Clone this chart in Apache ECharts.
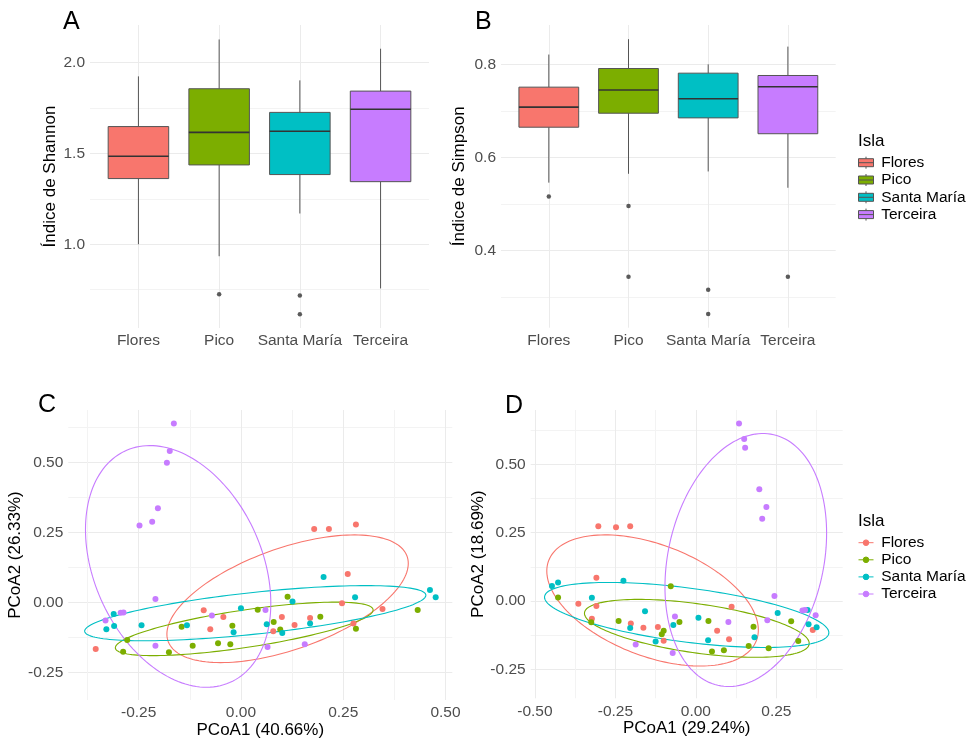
<!DOCTYPE html>
<html>
<head>
<meta charset="utf-8">
<script src="https://cdn.jsdelivr.net/npm/echarts@6/dist/echarts.min.js"></script>
<style>
  html, body { margin: 0; padding: 0; background: #fff; }
  #main { width: 970px; height: 740px; }
</style>
</head>
<body>
<div id="main"></div>
<script>
const islands = ['Flores', 'Pico', 'Santa María', 'Terceira'];
const islandColors = ['#F8766D', '#7CAE00', '#00BFC4', '#C77CFF'];

// [bigote inferior, Q1, mediana, Q3, bigote superior]
const shannonBoxes = [
  [1.000, 1.361, 1.484, 1.647, 1.923],
  [0.934, 1.436, 1.615, 1.855, 2.126],
  [1.169, 1.383, 1.621, 1.725, 1.901],
  [0.757, 1.344, 1.742, 1.842, 2.075]
];
const shannonOutliers = [[2, 0.725], [3, 0.718], [3, 0.615]];

const simpsonBoxes = [
  [0.546, 0.665, 0.708, 0.751, 0.821],
  [0.565, 0.695, 0.745, 0.791, 0.854],
  [0.570, 0.685, 0.726, 0.781, 0.800],
  [0.535, 0.651, 0.752, 0.776, 0.838]
];
const simpsonOutliers = [[1, 0.516], [2, 0.496], [2, 0.344], [3, 0.316], [3, 0.264], [4, 0.344]];

// PCoA C
const cFlores = [[0.179, 0.263], [0.215, 0.263], [0.281, 0.279], [0.261, 0.102], [0.247, -0.002], [0.346, -0.023], [-0.091, -0.027], [-0.043, -0.051], [-0.075, -0.095], [0.100, -0.051], [0.169, -0.055], [0.131, -0.080], [0.079, -0.102], [0.275, -0.074], [-0.355, -0.165]];
const cPico = [[0.114, 0.021], [0.041, -0.025], [0.194, -0.050], [0.080, -0.069], [0.096, -0.096], [-0.021, -0.082], [-0.145, -0.086], [-0.056, -0.145], [-0.026, -0.148], [-0.118, -0.154], [-0.176, -0.177], [-0.288, -0.175], [-0.278, -0.133], [0.281, -0.093], [0.432, -0.026]];
const cSantaMaria = [[0.202, 0.092], [0.462, 0.045], [0.476, 0.019], [0.279, 0.019], [0.126, 0.004], [0.000, -0.020], [-0.311, -0.040], [-0.310, -0.083], [-0.329, -0.095], [-0.243, -0.081], [-0.132, -0.081], [0.063, -0.077], [-0.018, -0.106], [0.101, -0.108], [0.169, -0.074]];
const cTerceira = [[-0.164, 0.640], [-0.174, 0.542], [-0.181, 0.500], [-0.203, 0.337], [-0.217, 0.289], [-0.248, 0.276], [-0.209, 0.013], [-0.331, -0.064], [-0.294, -0.036], [-0.287, -0.035], [-0.071, -0.046], [0.060, -0.026], [-0.209, -0.154], [0.065, -0.158], [0.156, -0.148]];
// elipses C: [cx, cy, semiancho x, semialto y, k]
const cEllipses = [
  [0.114, 0.014, 0.295, 0.228, 0.553],
  [0.008, -0.0935, 0.315, 0.0955, 0.707],
  [0.035, -0.0375, 0.417, 0.0985, 0.65],
  [-0.1535, 0.1295, 0.2265, 0.4315, -0.305]
];

// PCoA D
const dFlores = [[-0.303, 0.274], [-0.248, 0.270], [-0.204, 0.274], [-0.309, 0.085], [-0.365, -0.010], [-0.309, -0.018], [-0.323, -0.065], [-0.202, -0.082], [-0.163, -0.098], [-0.118, -0.095], [-0.100, -0.145], [0.111, -0.021], [0.066, -0.109], [0.103, -0.140], [0.363, -0.106]];
const dPico = [[-0.428, 0.013], [-0.325, -0.078], [-0.240, -0.073], [-0.100, -0.109], [-0.106, -0.122], [-0.078, 0.054], [-0.051, -0.077], [0.039, -0.073], [0.050, -0.185], [0.087, -0.180], [0.164, -0.165], [0.179, -0.094], [0.226, -0.173], [0.296, -0.074], [0.318, -0.146]];
const dSantaMaria = [[-0.447, 0.055], [-0.428, 0.068], [-0.225, 0.074], [-0.323, 0.012], [-0.158, -0.037], [-0.204, -0.099], [-0.125, -0.148], [-0.070, -0.088], [0.008, -0.061], [0.038, -0.144], [0.182, -0.133], [0.254, -0.044], [0.347, -0.033], [0.350, -0.085], [0.375, -0.096]];
const dTerceira = [[0.134, 0.650], [0.150, 0.593], [0.153, 0.561], [0.197, 0.409], [0.219, 0.344], [0.206, 0.301], [0.244, 0.018], [0.222, -0.070], [-0.065, -0.057], [0.101, -0.077], [-0.072, -0.190], [-0.187, -0.159], [0.331, -0.035], [0.339, -0.033], [0.372, -0.052]];
const dEllipses = [
  [-0.1345, 0.002, 0.3285, 0.240, -0.449],
  [0.003, -0.100, 0.349, 0.106, -0.519],
  [-0.0285, -0.051, 0.4415, 0.119, -0.546],
  [0.155, 0.150, 0.251, 0.463, 0.212]
];

const cPoints = [cFlores, cPico, cSantaMaria, cTerceira];
const dPoints = [dFlores, dPico, dSantaMaria, dTerceira];

const FONT = "'Liberation Sans', Arial, sans-serif";
const MAJOR = '#EBEBEB';
const MINOR = '#F3F3F3';

const chart = echarts.init(document.getElementById('main'), null, { renderer: 'canvas' });

const grids = [
  { left: 90, top: 25, width: 339, height: 303 },
  { left: 501, top: 25, width: 334.7, height: 302.7 },
  { left: 68.3, top: 410, width: 384, height: 290 },
  { left: 530.7, top: 410, width: 312, height: 288.3 }
];

// eje principal (etiquetas + lineas mayores) y eje secundario (lineas menores)
function axisPair(dim, gi, min, max, major, minor, fmt, name, nameGap) {
  const main = {
    type: 'value', gridIndex: gi, min: min, max: max,
    axisLine: { show: false },
    axisTick: { show: false, customValues: major },
    splitLine: { show: true, lineStyle: { color: MAJOR, width: 1 } },
    axisLabel: {
      customValues: major, formatter: fmt, color: '#4D4D4D',
      fontSize: 15.5, margin: 5, fontFamily: FONT
    }
  };
  if (name) {
    main.name = name;
    main.nameLocation = 'middle';
    main.nameGap = nameGap;
    main.nameTextStyle = { fontSize: 17, color: '#000', fontFamily: FONT };
  }
  const sec = {
    type: 'value', gridIndex: gi, min: min, max: max,
    axisLine: { show: false },
    axisTick: { show: false, customValues: minor },
    splitLine: { show: minor.length > 0, lineStyle: { color: MINOR, width: 1 } },
    axisLabel: { show: false }
  };
  if (dim === 'x') { main.position = 'bottom'; sec.position = 'top'; }
  else { main.position = 'left'; sec.position = 'right'; }
  return [main, sec];
}

const catFmt = v => islands[Math.round(v) - 1] || '';
const f1 = v => v.toFixed(1);
const f2 = v => v.toFixed(2);

const xAxes = [].concat(
  axisPair('x', 0, 0.4, 4.6, [1, 2, 3, 4], [], catFmt),
  axisPair('x', 1, 0.4, 4.6, [1, 2, 3, 4], [], catFmt),
  axisPair('x', 2, -0.422, 0.5166, [-0.25, 0, 0.25, 0.5], [-0.375, -0.125, 0.125, 0.375], f2, 'PCoA1 (40.66%)', 21.5),
  axisPair('x', 3, -0.513, 0.456, [-0.5, -0.25, 0, 0.25], [-0.375, -0.125, 0.125, 0.375], f2, 'PCoA1 (29.24%)', 21.5)
);
const yAxes = [].concat(
  axisPair('y', 0, 0.5393, 2.2055, [1.0, 1.5, 2.0], [0.75, 1.25, 1.75], f1, 'Índice de Shannon', 31.5),
  axisPair('y', 1, 0.2346, 0.8844, [0.4, 0.6, 0.8], [0.3, 0.5, 0.7], f1, 'Índice de Simpson', 33),
  axisPair('y', 2, -0.3475, 0.688, [-0.25, 0, 0.25, 0.5], [-0.125, 0.125, 0.375, 0.625], f2, 'PCoA2 (26.33%)', 42),
  axisPair('y', 3, -0.356, 0.699, [-0.25, 0, 0.25, 0.5], [-0.125, 0.125, 0.375, 0.625], f2, 'PCoA2 (18.69%)', 43)
);

function boxSeries(gi, idx, stats) {
  return {
    type: 'custom', name: islands[idx],
    xAxisIndex: gi * 2, yAxisIndex: gi * 2,
    itemStyle: { color: islandColors[idx] },
    encode: { x: 0, y: [1, 2, 3, 4, 5] },
    data: [[idx + 1].concat(stats)],
    renderItem: function (params, api) {
      const xv = api.value(0);
      const lo = api.coord([xv, api.value(1)]);
      const q1 = api.coord([xv, api.value(2)]);
      const md = api.coord([xv, api.value(3)]);
      const q3 = api.coord([xv, api.value(4)]);
      const hi = api.coord([xv, api.value(5)]);
      const left = api.coord([xv - 0.375, api.value(3)])[0];
      const right = api.coord([xv + 0.375, api.value(3)])[0];
      const cx = lo[0];
      const wStyle = { stroke: '#555', lineWidth: 1 };
      return {
        type: 'group',
        children: [
          { type: 'line', shape: { x1: cx, y1: hi[1], x2: cx, y2: q3[1] }, style: wStyle },
          { type: 'line', shape: { x1: cx, y1: q1[1], x2: cx, y2: lo[1] }, style: wStyle },
          { type: 'rect', shape: { x: left, y: q3[1], width: right - left, height: q1[1] - q3[1] },
            style: { fill: islandColors[idx], stroke: '#555', lineWidth: 1 } },
          { type: 'line', shape: { x1: left, y1: md[1], x2: right, y2: md[1] },
            style: { stroke: '#333', lineWidth: 1.6 } }
        ]
      };
    }
  };
}

function outlierSeries(gi, pts) {
  return {
    type: 'scatter', name: 'outliers' + gi,
    xAxisIndex: gi * 2, yAxisIndex: gi * 2,
    symbolSize: 4.5, itemStyle: { color: '#333' },
    data: pts
  };
}

function pointSeries(gi, idx, pts) {
  return {
    type: 'scatter', name: islands[idx],
    xAxisIndex: gi * 2, yAxisIndex: gi * 2,
    symbolSize: 6, itemStyle: { color: islandColors[idx], opacity: 1 },
    data: pts
  };
}

function ellipseSeries(gi, idx, e) {
  return {
    type: 'custom', name: islands[idx], silent: true,
    xAxisIndex: gi * 2, yAxisIndex: gi * 2,
    itemStyle: { color: islandColors[idx] },
    encode: { x: 0, y: 1 },
    data: [e],
    renderItem: function (params, api) {
      const cx = api.value(0), cy = api.value(1), w = api.value(2), h = api.value(3), k = api.value(4);
      const s = Math.sqrt(1 - k * k);
      const pts = [];
      for (let i = 0; i <= 160; i++) {
        const t = i / 160 * Math.PI * 2;
        pts.push(api.coord([cx + w * Math.cos(t), cy + h * (k * Math.cos(t) + s * Math.sin(t))]));
      }
      return { type: 'polyline', shape: { points: pts },
        style: { stroke: islandColors[idx], fill: null, lineWidth: 1.1 } };
    }
  };
}

const series = [];
shannonBoxes.forEach((b, i) => series.push(boxSeries(0, i, b)));
series.push(outlierSeries(0, shannonOutliers));
simpsonBoxes.forEach((b, i) => series.push(boxSeries(1, i, b)));
series.push(outlierSeries(1, simpsonOutliers));
cPoints.forEach((p, i) => series.push(pointSeries(2, i, p)));
cEllipses.forEach((e, i) => series.push(ellipseSeries(2, i, e)));
dPoints.forEach((p, i) => series.push(pointSeries(3, i, p)));
dEllipses.forEach((e, i) => series.push(ellipseSeries(3, i, e)));

const boxIcon = 'path://M0,2H15V10H0Z M0,6H15 M7.5,0V2 M7.5,10V12 M17.7,12';
const pointIcon = 'path://M0,6H15 M10.3,6A2.8,2.8,0,1,1,4.7,6A2.8,2.8,0,1,1,10.3,6Z M0,0 M17.7,12';

function panelTitle(text, left, top) {
  return { text: text, left: left, top: top, padding: 0,
    textStyle: { fontSize: 25, fontWeight: 'normal', color: '#000', fontFamily: FONT } };
}
function legendTitle(top) {
  return { text: 'Isla', left: 858, top: top, padding: 0,
    textStyle: { fontSize: 17, fontWeight: 'normal', color: '#000', fontFamily: FONT, lineHeight: 17 } };
}
function legendBlock(top, gap, icon, boxed) {
  return {
    orient: 'vertical', left: 858, top: top, padding: 0,
    itemGap: gap, itemWidth: 17.7, itemHeight: 12,
    textStyle: { fontSize: 15.5, color: '#000', lineHeight: 17, fontFamily: FONT },
    data: islands.map((n, i) => ({
      name: n, icon: icon,
      itemStyle: { color: islandColors[i], borderColor: boxed ? '#555' : islandColors[i], borderWidth: 1 }
    }))
  };
}

const option = {
  animation: false,
  textStyle: { fontFamily: FONT },
  title: [
    panelTitle('A', 63, 10),
    panelTitle('B', 475, 10),
    panelTitle('C', 38, 393),
    panelTitle('D', 505, 394),
    legendTitle(133),
    legendTitle(513)
  ],
  legend: [
    legendBlock(154.2, 0.3, boxIcon, true),
    legendBlock(534.2, 0.1, pointIcon, false)
  ],
  grid: grids,
  xAxis: xAxes,
  yAxis: yAxes,
  series: series
};

chart.setOption(option);
window.addEventListener('resize', chart.resize);
</script>
</body>
</html>
